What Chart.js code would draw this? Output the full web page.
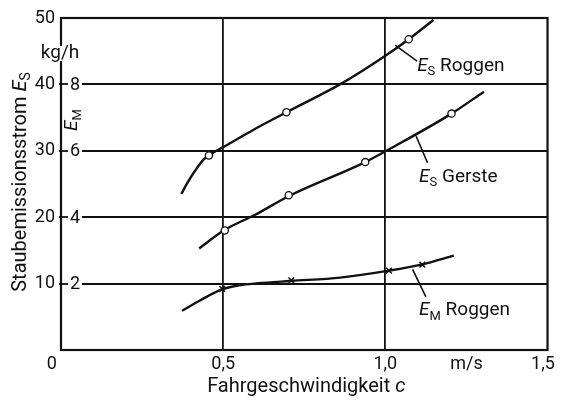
<!DOCTYPE html>
<html>
<head>
<meta charset="utf-8">
<script src="https://cdn.jsdelivr.net/npm/chart.js@4.4.1/dist/chart.umd.min.js"></script>
<style>
  body { margin: 0; background: #fff; }
  #wrap { width: 568px; height: 401px; }
</style>
</head>
<body>
<div id="wrap"><canvas id="myChart" width="568" height="401"></canvas></div>
<script>
// Werte: x = Fahrgeschwindigkeit c (m/s)
// E_S in kg/h, E_M in der rechten Innenskala (1 Teilstrich E_M = 5 kg/h E_S)
var roggenCurveX = [0.371, 0.39, 0.415, 0.44, 0.47, 0.50, 0.591, 0.695, 0.871, 1.00, 1.072, 1.148];
var roggenCurveY = [23.5, 25.2, 27.1, 28.7, 29.75, 30.55, 33.1, 35.8, 40.3, 44.3, 46.8, 49.7];
var roggenPointX = [0.456, 0.695, 1.072];
var roggenPointY = [29.3, 35.8, 46.8];

var gersteCurveX = [0.426, 0.505, 0.60, 0.703, 0.938, 1.003, 1.204, 1.304];
var gersteCurveY = [15.3, 18.1, 20.4, 23.2, 28.3, 30.0, 35.6, 38.9];
var gerstePointX = [0.505, 0.702, 0.938, 1.204];
var gerstePointY = [18.0, 23.3, 28.3, 35.6];

var emCurveX = [0.373, 0.43, 0.498, 0.55, 0.607, 0.708, 0.861, 1.011, 1.115, 1.211];
var emCurveY = [1.18, 1.50, 1.83, 1.95, 2.01, 2.08, 2.18, 2.39, 2.58, 2.84];
var emPointX = [0.497, 0.71, 1.011, 1.114];
var emPointY = [1.84, 2.10, 2.39, 2.57];
var emFactor = 5;

var xTickValues = [0, 0.5, 1.0, 1.25, 1.5];
var xTickLabels = ['0\u2002\u2002', '0,5', '1,0', 'm/s', '1,5\u2002'];
var xGridValues = [0.5, 1.0];
var yTickLabels = ['', '10', '20', '30', '40', '50'];
var yGridValues = [10, 20, 30, 40];
var emTickValues = [2, 4, 6, 8];

// Beschriftungen an den Kurven (Lage in Achsenwerten)
var curveLabels = [
    { sub: 'S', text: 'Roggen', x: 1.098, y: 42.0, from: [1.03, 45.9], to: [1.098, 43.5] },
    { sub: 'S', text: 'Gerste', x: 1.104, y: 25.3, from: [1.095, 32.2], to: [1.130, 28.2] },
    { sub: 'M', text: 'Roggen', x: 1.104, y: 5.2, from: [1.084, 12.15], to: [1.125, 8.0] }
];

var ink = '#111';
var fontName = 'Roboto';

function toPoints(xs, ys, factor) {
    return xs.map(function(x, i) { return { x: x, y: ys[i] * (factor || 1) }; });
}

function drawIndexed(c, x, y, sub, rest, size) {
    // E kursiv, Index klein und tiefer, danach normaler Text
    c.font = 'italic ' + size + 'px ' + fontName;
    c.fillText('E', x, y);
    x += c.measureText('E').width;
    c.font = Math.round(size * 0.68) + 'px ' + fontName;
    c.fillText(sub, x, y + size * 0.22);
    x += c.measureText(sub).width;
    if (rest) {
        c.font = size + 'px ' + fontName;
        c.fillText(' ' + rest, x, y);
    }
}

function indexedWidth(c, sub, rest, size) {
    c.font = 'italic ' + size + 'px ' + fontName;
    var w = c.measureText('E').width;
    c.font = Math.round(size * 0.68) + 'px ' + fontName;
    w += c.measureText(sub).width;
    if (rest) {
        c.font = size + 'px ' + fontName;
        w += c.measureText(' ' + rest).width;
    }
    return w;
}

var figurePlugin = {
    id: 'figure',
    beforeDatasetsDraw: function(chart) {
        var c = chart.ctx, a = chart.chartArea, ys = chart.scales.y;
        c.save();
        c.strokeStyle = ink;
        c.lineWidth = 1.8;
        yGridValues.forEach(function(v) {
            var py = Math.round(ys.getPixelForValue(v));
            c.beginPath(); c.moveTo(a.left + 21, py); c.lineTo(a.right, py); c.stroke();
            c.beginPath(); c.moveTo(a.left - 2, py); c.lineTo(a.left + 7, py); c.stroke();
        });
        c.lineWidth = 2.2;
        c.strokeRect(a.left, a.top, a.right - a.left, a.bottom - a.top);
        c.restore();
    },
    afterDraw: function(chart) {
        var c = chart.ctx, a = chart.chartArea, xs = chart.scales.x, ys = chart.scales.y;
        c.save();
        c.fillStyle = ink;
        c.strokeStyle = ink;

        // innere E_M Skala
        c.font = '18px ' + fontName;
        c.textAlign = 'center';
        c.textBaseline = 'middle';
        emTickValues.forEach(function(v) {
            c.fillText(String(v), a.left + 14, ys.getPixelForValue(v * emFactor) + 1);
        });

        // Einheit kg/h über der Achse
        c.fillStyle = '#fff';
        c.fillRect(a.left - 3, 46, 6, 15);
        c.fillStyle = ink;
        c.font = '19px ' + fontName;
        c.textBaseline = 'alphabetic';
        c.fillText('kg/h', a.left - 1, 58);

        // x-Achsentitel mit kursivem c
        c.textAlign = 'left';
        c.font = '20px ' + fontName;
        var xt = 'Fahrgeschwindigkeit ';
        var xw = c.measureText(xt).width;
        c.font = 'italic 20px ' + fontName;
        var cw = c.measureText('c').width;
        var x0 = (a.left + a.right) / 2 - (xw + cw) / 2 + 2;
        c.font = '20px ' + fontName;
        c.fillText(xt, x0, 392);
        c.font = 'italic 20px ' + fontName;
        c.fillText('c', x0 + xw, 392);

        // E_M gedreht
        c.save();
        c.translate(77, 120 + indexedWidth(c, 'M', '', 19) / 2);
        c.rotate(-Math.PI / 2);
        drawIndexed(c, 0, 0, 'M', '', 19);
        c.restore();

        // y-Achsentitel
        c.save();
        var titleSize = 20;
        c.font = titleSize + 'px ' + fontName;
        var tw = c.measureText('Staubemissionsstrom ').width;
        var total = tw + indexedWidth(c, 'S', '', titleSize);
        c.translate(26, 182 + total / 2);
        c.rotate(-Math.PI / 2);
        c.font = titleSize + 'px ' + fontName;
        c.fillText('Staubemissionsstrom ', 0, 0);
        drawIndexed(c, tw, 0, 'S', '', titleSize);
        c.restore();

        // Kurvenbeschriftungen mit Hinweislinien
        c.lineWidth = 1.6;
        curveLabels.forEach(function(l) {
            c.beginPath();
            c.moveTo(xs.getPixelForValue(l.from[0]), ys.getPixelForValue(l.from[1]));
            c.lineTo(xs.getPixelForValue(l.to[0]), ys.getPixelForValue(l.to[1]));
            c.stroke();
            drawIndexed(c, xs.getPixelForValue(l.x), ys.getPixelForValue(l.y), l.sub, l.text, 19);
        });
        c.restore();
    }
};

var curveStyle = {
    showLine: true,
    borderColor: ink,
    borderWidth: 2.4,
    pointRadius: 0,
    cubicInterpolationMode: 'monotone',
    order: 1
};

var ctx = document.getElementById('myChart').getContext('2d');
var myChart = new Chart(ctx, {
    type: 'scatter',
    data: {
        datasets: [
            Object.assign({ label: 'ES Roggen', data: toPoints(roggenCurveX, roggenCurveY) }, curveStyle),
            Object.assign({ label: 'ES Gerste', data: toPoints(gersteCurveX, gersteCurveY) }, curveStyle),
            Object.assign({ label: 'EM Roggen', data: toPoints(emCurveX, emCurveY, emFactor) }, curveStyle),
            {
                label: 'ES Roggen Messwerte', data: toPoints(roggenPointX, roggenPointY),
                pointStyle: 'circle', pointRadius: 3.6, backgroundColor: '#fff',
                borderColor: ink, borderWidth: 1.3, order: 0
            },
            {
                label: 'ES Gerste Messwerte', data: toPoints(gerstePointX, gerstePointY),
                pointStyle: 'circle', pointRadius: 3.6, backgroundColor: '#fff',
                borderColor: ink, borderWidth: 1.3, order: 0
            },
            {
                label: 'EM Roggen Messwerte', data: toPoints(emPointX, emPointY, emFactor),
                pointStyle: 'crossRot', pointRadius: 4, backgroundColor: ink,
                borderColor: ink, borderWidth: 1.5, order: 0
            }
        ]
    },
    options: {
        responsive: false,
        animation: false,
        layout: { padding: { top: 18, right: 15, left: 0, bottom: 0 } },
        plugins: { legend: { display: false }, tooltip: { enabled: false } },
        scales: {
            x: {
                type: 'linear', min: 0, max: 1.5,
                afterBuildTicks: function(scale) {
                    scale.ticks = xTickValues.map(function(v) { return { value: v }; });
                },
                afterFit: function(scale) { scale.height = 51; },
                ticks: {
                    color: ink, padding: 4, maxRotation: 0, autoSkip: false,
                    font: { family: fontName, size: 18 },
                    callback: function(value) { return xTickLabels[xTickValues.indexOf(value)]; }
                },
                grid: {
                    drawTicks: false,
                    lineWidth: 1.8,
                    color: function(c) {
                        return c.tick && xGridValues.indexOf(c.tick.value) >= 0 ? ink : 'rgba(0,0,0,0)';
                    }
                },
                border: { display: false }
            },
            y: {
                min: 0, max: 50,
                afterFit: function(scale) { scale.width = 61; },
                ticks: {
                    stepSize: 10, color: ink, padding: 6,
                    font: { family: fontName, size: 18 },
                    callback: function(value) { return yTickLabels[value / 10]; }
                },
                grid: { display: false, drawTicks: false },
                border: { display: false }
            }
        }
    },
    plugins: [figurePlugin]
});
</script>
</body>
</html>
